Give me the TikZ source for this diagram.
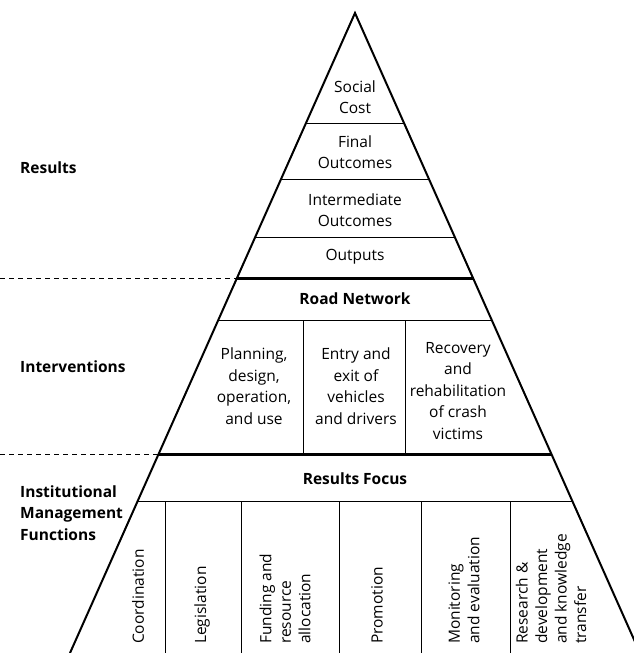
\documentclass[tikz,border=0pt]{standalone}
\usepackage{fontspec}
\setmainfont{Open Sans}
\begin{document}
\begin{tikzpicture}[x=1pt,y=-1pt]
\newcommand{\apexx}{355}
\newcommand{\apexy}{13}
\newcommand{\txtsize}{15.5}
\tikzstyle{side}=[line width=2pt,line join=miter]
\tikzstyle{rule}=[line width=0.9pt]
\tikzstyle{bar}=[line width=3pt]
\tikzstyle{guide}=[dash pattern=on 5pt off 4pt,line width=0.8pt]
\tikzstyle{cell}=[align=center,inner sep=0pt,font=\fontsize{\txtsize}{21.5}\selectfont]
\tikzstyle{head}=[cell,font=\bfseries\fontsize{\txtsize}{21}\selectfont]
\tikzstyle{level}=[anchor=west,align=left,inner sep=0pt,font=\bfseries\fontsize{\txtsize}{21.5}\selectfont]
\tikzstyle{func}=[rotate=90,anchor=west,align=left,inner sep=0pt,font=\fontsize{\txtsize}{19.5}\selectfont]
\useasboundingbox (0,0) rectangle (634,653);
\clip (0,0) rectangle (634,653);
\coordinate (apex) at (\apexx,\apexy);
\coordinate (baseL) at (70,653);
\coordinate (baseR) at (640,653);
% where the bars meet the left side
\coordinate (cutA) at (237,278);
\coordinate (cutB) at (158.5,454);
\coordinate (edgeA) at (0,278);
\coordinate (edgeB) at (0,454);
% rules inside the pyramid
\begin{scope}
\clip (apex) -- (baseL) -- (baseR) -- cycle;
\draw[rule] (0,123) -- (634,123);
\draw[rule] (0,179) -- (634,179);
\draw[rule] (0,237) -- (634,237);
\draw[bar] (0,278) -- (634,278);
\draw[rule] (0,320) -- (634,320);
\draw[bar] (0,454) -- (634,454);
\draw[rule] (0,501) -- (634,501);
\draw[rule] (303,320) -- (303,454);
\draw[rule] (405,320) -- (405,454);
\foreach \x in {165,241,339,421,510}
  \draw[rule] (\x,501) -- (\x,653);
\end{scope}
\draw[side] (baseL) -- (apex) -- (baseR);
\draw[guide] (edgeA) -- (cutA);
\draw[guide] (edgeB) -- (cutB);
% results
\node[cell] (social) at (355,97) {Social\\Cost};
\node[cell] (final) at (355,152) {Final\\Outcomes};
\node[cell] (inter) at (355,210) {Intermediate\\Outcomes};
\node[cell] (outputs) at (355,257) {Outputs};
% interventions
\node[head] (road) at (355,299) {Road Network};
\node[cell] (planning) at (254,386) {Planning,\\design,\\operation,\\and use};
\node[cell] (entry) at (356,386) {Entry and\\exit of\\vehicles\\and drivers};
\node[cell] (recovery) at (458,391) {Recovery\\and\\rehabilitation\\of crash\\victims};
% management functions
\node[head] (focus) at (355,479) {Results Focus};
\node[func] (coord) at (138,644) {Coordination};
\node[func] (legis) at (202,644) {Legislation};
\node[func] (funding) at (285,644) {Funding and\\resource\\allocation};
\node[func] (promo) at (377,644) {Promotion};
\node[func] (monitor) at (464,644) {Monitoring\\and evaluation};
\node[func] (research) at (551,644) {Research \&\\development\\and knowledge\\transfer};
% level labels
\node[level] (results) at (20,168) {Results};
\node[level] (interv) at (20,367) {Interventions};
\node[level] (inst) at (20,513) {Institutional\\Management\\Functions};
\end{tikzpicture}
\end{document}
